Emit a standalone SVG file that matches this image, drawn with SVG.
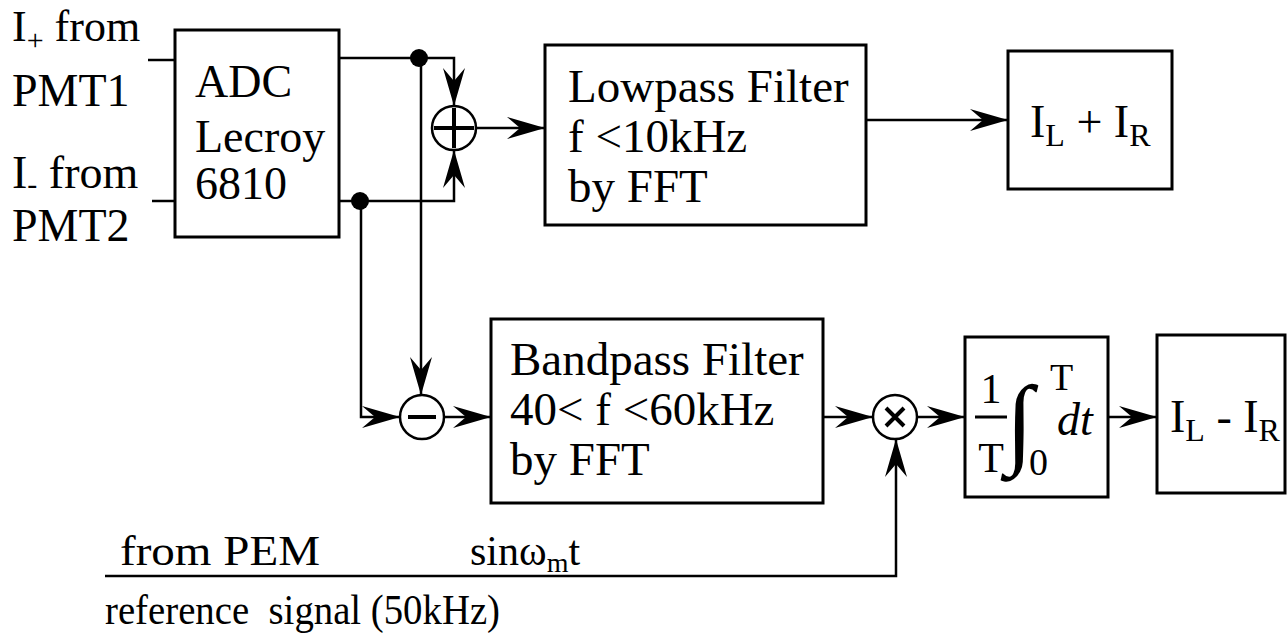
<svg xmlns="http://www.w3.org/2000/svg" width="1287" height="642" viewBox="0 0 1287 642" font-size="46">
<style>
.box{fill:none;stroke:#000;stroke-width:3}
.ln{fill:none;stroke:#000;stroke-width:2.5}
.sym{fill:none;stroke:#000;stroke-width:2.5}
.bar{stroke:#000;stroke-width:4}
text{font-family:"Liberation Serif","Times New Roman",serif;fill:#000}
</style>
<defs>
<marker id="ah" markerUnits="userSpaceOnUse" markerWidth="42" markerHeight="26" viewBox="-40 -13 42 26" refX="0" refY="0" orient="auto">
<path d="M0,0 L-38,-11 L-25,0 L-38,11 Z" fill="#000"/>
</marker>
</defs>
<rect width="1287" height="642" fill="#fff"/>

<g id="connectors">
<path class="ln" d="M148,60 H175"/>
<path class="ln" d="M152,201 H175"/>
<path class="ln" d="M339,58 H454 V106" marker-end="url(#ah)"/>
<path class="ln" d="M339,201 H454 V150" marker-end="url(#ah)"/>
<path class="ln" d="M421,58 V395" marker-end="url(#ah)"/>
<path class="ln" d="M361,201 V417 H400" marker-end="url(#ah)"/>
<path class="ln" d="M476,128 H545" marker-end="url(#ah)"/>
<path class="ln" d="M866,120 H1008" marker-end="url(#ah)"/>
<path class="ln" d="M444,417 H491" marker-end="url(#ah)"/>
<path class="ln" d="M823,417 H873" marker-end="url(#ah)"/>
<path class="ln" d="M917,417 H965" marker-end="url(#ah)"/>
<path class="ln" d="M1108,417 H1157" marker-end="url(#ah)"/>
<path class="ln" d="M105,576 H896 V439" marker-end="url(#ah)"/>
<circle cx="419" cy="58" r="9" fill="#000"/>
<circle cx="360" cy="201" r="9" fill="#000"/>
</g>

<g id="inputs">
<text x="12" y="41" font-size="44">I<tspan dy="9" font-size="30">+</tspan><tspan dy="-9"> from</tspan></text>
<text x="12" y="106">PMT1</text>
<text x="12" y="188">I<tspan dy="6" font-size="30">-</tspan><tspan dy="-6"> from</tspan></text>
<text x="12" y="241">PMT2</text>
</g>

<g id="adc">
<rect class="box" x="175" y="30" width="164" height="207"/>
<text x="195" y="97">ADC</text>
<text x="195" y="152">Lecroy</text>
<text x="195" y="199">6810</text>
</g>

<g id="sum">
<circle class="sym" cx="454" cy="128" r="22"/>
<path class="bar" d="M434,128 H474 M454,108 V148"/>
</g>

<g id="diff">
<circle class="sym" cx="422" cy="417" r="22"/>
<path class="bar" d="M408,417 H436"/>
</g>

<g id="mult">
<circle class="sym" cx="895" cy="417" r="22"/>
<path class="bar" d="M886,408 L904,426 M904,408 L886,426"/>
</g>

<g id="lowpass" font-size="47">
<rect class="box" x="545" y="45" width="321" height="180"/>
<text x="568" y="102">Lowpass Filter</text>
<text x="568" y="152">f &lt;10kHz</text>
<text x="568" y="202">by FFT</text>
</g>

<g id="sumout">
<rect class="box" x="1008" y="51" width="164" height="138"/>
<text x="1030" y="137">I<tspan dy="9" font-size="32">L</tspan><tspan dy="-9"> + I</tspan><tspan dy="9" font-size="32">R</tspan></text>
</g>

<g id="bandpass" font-size="47">
<rect class="box" x="491" y="319" width="332" height="184"/>
<text x="510" y="375">Bandpass Filter</text>
<text x="510" y="425">40&lt; f &lt;60kHz</text>
<text x="510" y="475">by FFT</text>
</g>

<g id="integrator">
<rect class="box" x="965" y="337" width="143" height="160"/>
<text x="991" y="403" text-anchor="middle" font-size="42">1</text>
<path class="bar" d="M975,417 H1007" style="stroke-width:3"/>
<text x="991" y="472" text-anchor="middle" font-size="42">T</text>
<text x="1006" y="455" font-size="100" font-weight="bold">∫</text>
<text x="1050" y="390" font-size="38">T</text>
<text x="1029" y="475" font-size="38">0</text>
<text x="1057" y="435" font-size="46" font-style="italic">dt</text>
</g>

<g id="diffout">
<rect class="box" x="1157" y="335" width="128" height="158"/>
<text x="1170" y="432">I<tspan dy="9" font-size="32">L</tspan><tspan dy="-9"> - I</tspan><tspan dy="9" font-size="32">R</tspan></text>
</g>

<g id="reference" font-size="42">
<text x="120" y="565" textLength="200" lengthAdjust="spacingAndGlyphs">from PEM</text>
<text x="470" y="565">sinω<tspan dy="7" font-size="28">m</tspan><tspan dy="-7">t</tspan></text>
<text x="105" y="624" style="white-space:pre" textLength="395" lengthAdjust="spacingAndGlyphs">reference  signal (50kHz)</text>
</g>
</svg>
